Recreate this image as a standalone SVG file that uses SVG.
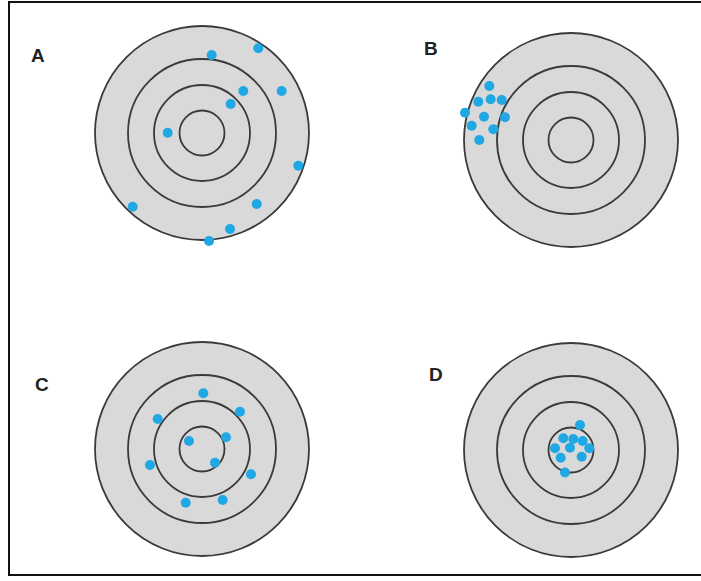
<svg xmlns="http://www.w3.org/2000/svg" width="701" height="581" viewBox="0 0 701 581">
<style>
.ring{fill:#d9d9d9;stroke:#3a3a3a;stroke-width:1.8}
.inner{fill:none;stroke:#3a3a3a;stroke-width:1.8}
.dot{fill:#1fa8e4}
.lbl{font-family:"Liberation Sans",Arial,sans-serif;font-weight:bold;font-size:19px;fill:#222}
</style>
<defs>
<g id="target">
<circle class="ring" r="107"/>
<circle class="inner" r="74"/>
<circle class="inner" r="48"/>
<circle class="inner" r="22.5"/>
</g>
</defs>
<rect x="9" y="2" width="700" height="573" fill="#fff" stroke="#111" stroke-width="2"/>
<g id="A">
<use href="#target" x="202" y="133"/>
<text class="lbl" x="31" y="62">A</text>
<g class="dot">
<circle cx="211.7" cy="55" r="5"/><circle cx="258.3" cy="48.3" r="5"/><circle cx="243.3" cy="91" r="5"/><circle cx="281.7" cy="91" r="5"/><circle cx="230.7" cy="104" r="5"/><circle cx="167.7" cy="132.7" r="5"/><circle cx="298.3" cy="165.7" r="5"/><circle cx="132.7" cy="206.7" r="5"/><circle cx="256.7" cy="204" r="5"/><circle cx="230" cy="229" r="5"/><circle cx="209" cy="241" r="5"/>
</g>
</g>
<g id="B">
<use href="#target" x="571" y="140"/>
<text class="lbl" x="424" y="55">B</text>
<g class="dot">
<circle cx="489.3" cy="86" r="5"/><circle cx="478.3" cy="101.7" r="5"/><circle cx="490.7" cy="99.3" r="5"/><circle cx="501.7" cy="100" r="5"/><circle cx="465" cy="112.7" r="5"/><circle cx="484" cy="116.7" r="5"/><circle cx="505" cy="117.3" r="5"/><circle cx="471.7" cy="125.7" r="5"/><circle cx="493.3" cy="129.3" r="5"/><circle cx="479.3" cy="140" r="5"/>
</g>
</g>
<g id="C">
<use href="#target" x="202" y="449"/>
<text class="lbl" x="35" y="391">C</text>
<g class="dot">
<circle cx="203.3" cy="393.3" r="5"/><circle cx="240" cy="411.7" r="5"/><circle cx="157.7" cy="419" r="5"/><circle cx="189" cy="441" r="5"/><circle cx="226" cy="437.3" r="5"/><circle cx="215" cy="462.7" r="5"/><circle cx="150" cy="465" r="5"/><circle cx="251" cy="474.3" r="5"/><circle cx="185.7" cy="502.7" r="5"/><circle cx="222.7" cy="500" r="5"/>
</g>
</g>
<g id="D">
<use href="#target" x="571" y="450"/>
<text class="lbl" x="429" y="381">D</text>
<g class="dot">
<circle cx="580" cy="425" r="5"/><circle cx="563.3" cy="438.3" r="5"/><circle cx="573.3" cy="439" r="5"/><circle cx="582.7" cy="441" r="5"/><circle cx="555" cy="448.3" r="5"/><circle cx="570" cy="447.7" r="5"/><circle cx="589.3" cy="448.3" r="5"/><circle cx="560.7" cy="457.7" r="5"/><circle cx="581.7" cy="456.7" r="5"/><circle cx="565" cy="472.5" r="5"/>
</g>
</g>
<g id="connectors"/>
</svg>
